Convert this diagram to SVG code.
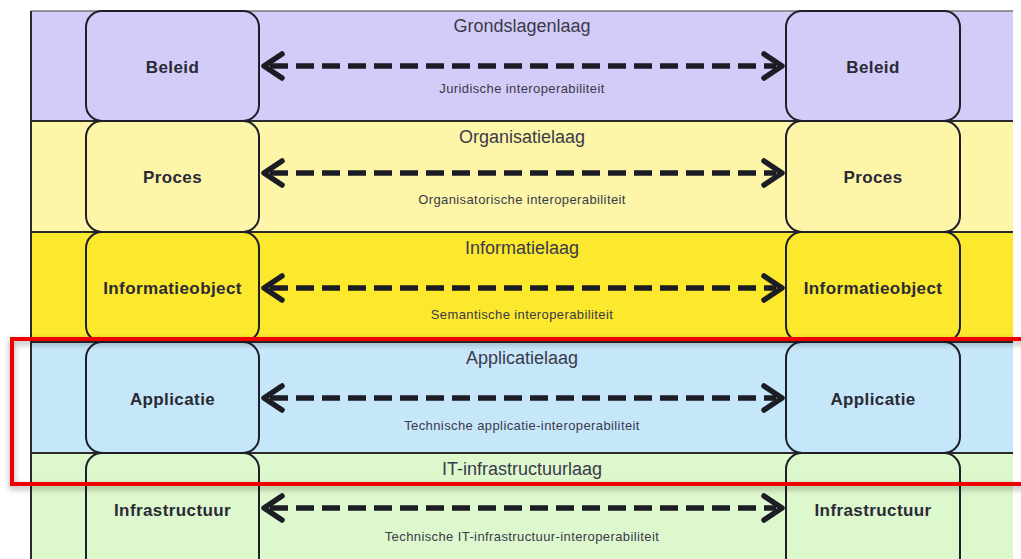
<svg xmlns="http://www.w3.org/2000/svg" width="1021" height="559" viewBox="0 0 1021 559">
<defs>
<style>
.band{stroke:none}
.sep{stroke:#2b2b2b;stroke-width:2}
.box{stroke:#1f1f2a;stroke-width:2}
.nl{font-family:"Liberation Sans",Arial,sans-serif;font-weight:bold;font-size:17px;letter-spacing:0.4px;fill:#2a2a36;text-anchor:middle}
.tl{font-family:"Liberation Sans",Arial,sans-serif;font-size:18px;fill:#3a3a4a;text-anchor:middle}
.il{font-family:"Liberation Sans",Arial,sans-serif;font-size:13px;letter-spacing:0.4px;fill:#3a3a4a;text-anchor:middle}
.ln{stroke:#1c1c24;stroke-width:5.5;stroke-dasharray:18 8;fill:none}
.hd{stroke:#1c1c24;stroke-width:5.5;fill:none;stroke-linecap:round;stroke-linejoin:round}
</style>
<filter id="sh" x="-5%" y="-20%" width="110%" height="140%">
<feDropShadow dx="0" dy="3" stdDeviation="3" flood-color="#000" flood-opacity="0.35"/>
</filter>
</defs>
<rect width="1021" height="559" fill="#ffffff"/>
<g id="bands">
<rect class="band" x="31" y="11" width="982" height="110" fill="#d3ccf8"/>
<rect class="band" x="31" y="121" width="982" height="111" fill="#fdf6a8"/>
<rect class="band" x="31" y="232" width="982" height="110" fill="#fce82c"/>
<rect class="band" x="31" y="342" width="982" height="111" fill="#c6e7fa"/>
<rect class="band" x="31" y="453" width="982" height="106" fill="#ddf8cd"/>
<line x1="31" y1="11" x2="1013" y2="11" stroke="#777" stroke-width="1.5"/>
<line x1="31" y1="11" x2="31" y2="559" class="sep"/>
<line x1="31" y1="121" x2="1013" y2="121" class="sep"/>
<line x1="31" y1="232" x2="1013" y2="232" class="sep"/>
<line x1="31" y1="342" x2="1013" y2="342" class="sep"/>
<line x1="31" y1="453" x2="1013" y2="453" class="sep"/>
</g>
<g id="titles">
<text class="tl" x="522" y="32">Grondslagenlaag</text>
<text class="il" x="522" y="93">Juridische interoperabiliteit</text>
<text class="tl" x="522" y="143">Organisatielaag</text>
<text class="il" x="522" y="204">Organisatorische interoperabiliteit</text>
<text class="tl" x="522" y="254">Informatielaag</text>
<text class="il" x="522" y="319">Semantische interoperabiliteit</text>
<text class="tl" x="522" y="364">Applicatielaag</text>
<text class="il" x="522" y="430">Technische applicatie-interoperabiliteit</text>
<text class="tl" x="522" y="475">IT-infrastructuurlaag</text>
<text class="il" x="522" y="541">Technische IT-infrastructuur-interoperabiliteit</text>
</g>
<g id="node-beleid-l"><rect class="box" x="86" y="11" width="173" height="110" rx="16" fill="#d3ccf8"/><text class="nl" x="172.5" y="73">Beleid</text></g>
<g id="node-beleid-r"><rect class="box" x="786" y="11" width="174" height="110" rx="16" fill="#d3ccf8"/><text class="nl" x="873" y="73">Beleid</text></g>
<g id="node-proces-l"><rect class="box" x="86" y="121" width="173" height="111" rx="16" fill="#fdf6a8"/><text class="nl" x="172.5" y="183">Proces</text></g>
<g id="node-proces-r"><rect class="box" x="786" y="121" width="174" height="111" rx="16" fill="#fdf6a8"/><text class="nl" x="873" y="183">Proces</text></g>
<g id="node-info-l"><rect class="box" x="86" y="232" width="173" height="110" rx="16" fill="#fce82c"/><text class="nl" x="172.5" y="294">Informatieobject</text></g>
<g id="node-info-r"><rect class="box" x="786" y="232" width="174" height="110" rx="16" fill="#fce82c"/><text class="nl" x="873" y="294">Informatieobject</text></g>
<g id="node-app-l"><rect class="box" x="86" y="342" width="173" height="111" rx="16" fill="#c6e7fa"/><text class="nl" x="172.5" y="405">Applicatie</text></g>
<g id="node-app-r"><rect class="box" x="786" y="342" width="174" height="111" rx="16" fill="#c6e7fa"/><text class="nl" x="873" y="405">Applicatie</text></g>
<g id="node-infra-l"><rect class="box" x="86" y="453" width="173" height="120" rx="16" fill="#ddf8cd"/><text class="nl" x="172.5" y="516">Infrastructuur</text></g>
<g id="node-infra-r"><rect class="box" x="786" y="453" width="174" height="120" rx="16" fill="#ddf8cd"/><text class="nl" x="873" y="516">Infrastructuur</text></g>
<g id="connectors">
<g transform="translate(0,66)"><line class="ln" x1="270" y1="0" x2="776" y2="0"/><path class="hd" d="M282,-12 L264,0 L282,12 M764,-12 L782,0 L764,12"/></g>
<g transform="translate(0,173)"><line class="ln" x1="270" y1="0" x2="776" y2="0"/><path class="hd" d="M282,-12 L264,0 L282,12 M764,-12 L782,0 L764,12"/></g>
<g transform="translate(0,288)"><line class="ln" x1="270" y1="0" x2="776" y2="0"/><path class="hd" d="M282,-12 L264,0 L282,12 M764,-12 L782,0 L764,12"/></g>
<g transform="translate(0,398)"><line class="ln" x1="270" y1="0" x2="776" y2="0"/><path class="hd" d="M282,-12 L264,0 L282,12 M764,-12 L782,0 L764,12"/></g>
<g transform="translate(0,508)"><line class="ln" x1="270" y1="0" x2="776" y2="0"/><path class="hd" d="M282,-12 L264,0 L282,12 M764,-12 L782,0 L764,12"/></g>
</g>
<rect id="highlight" x="12" y="339" width="1016" height="145" fill="none" stroke="#ee0000" stroke-width="4" filter="url(#sh)"/>
</svg>
